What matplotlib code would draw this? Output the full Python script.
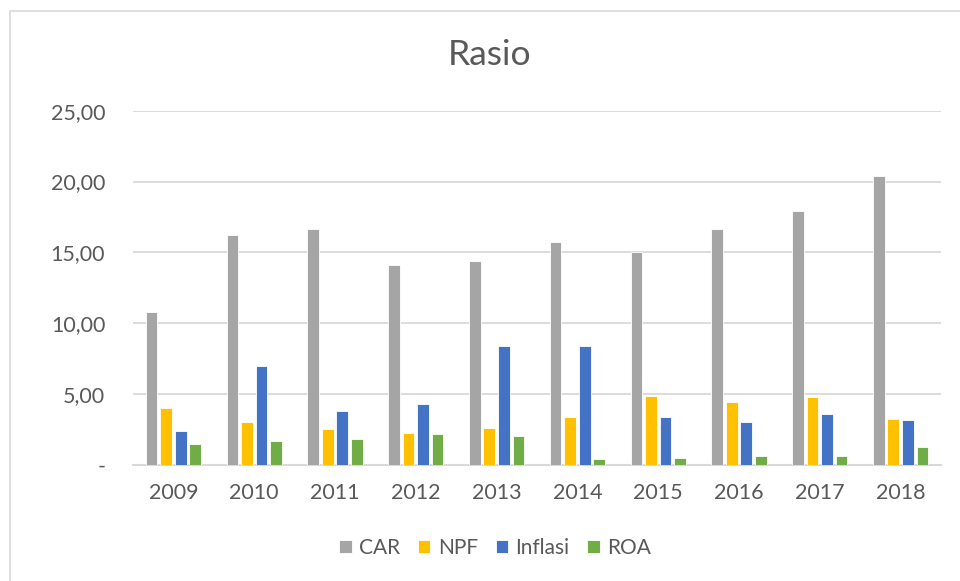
import matplotlib
matplotlib.use("Agg")
import matplotlib.pyplot as plt
import numpy as np
from matplotlib.patches import Rectangle

plt.rcParams['font.family'] = ['Lato', 'DejaVu Sans']

years = ['2009', '2010', '2011', '2012', '2013', '2014', '2015', '2016', '2017', '2018']
car = [10.77, 16.25, 16.63, 14.13, 14.42, 15.74, 15.02, 16.63, 17.91, 20.39]
npf = [4.01, 3.02, 2.52, 2.22, 2.62, 3.38, 4.84, 4.42, 4.76, 3.26]
inflasi = [2.41, 6.96, 3.79, 4.30, 8.38, 8.36, 3.35, 3.02, 3.61, 3.13]
roa = [1.48, 1.67, 1.79, 2.14, 2.00, 0.41, 0.49, 0.63, 0.63, 1.28]
series_names = ['CAR', 'NPF', 'Inflasi', 'ROA']
colors = ['#A5A5A5', '#FFC000', '#4472C4', '#70AD47']
yticks = [0, 5, 10, 15, 20, 25]
ytick_labels = ['-', '5,00', '10,00', '15,00', '20,00', '25,00']

fig = plt.figure(figsize=(9.6, 5.81), dpi=100)
ax = fig.add_axes([133/960, 1-464.7/581, (941-133)/960, (464.7-110.7)/581])

x = np.arange(len(years))
w = 0.145
step = 0.18
for i, (vals, c, name) in enumerate(zip([car, npf, inflasi, roa], colors, series_names)):
    ax.bar(x + (i - 1.5) * step, vals, width=w, color=c, label=name,
           edgecolor='white', linewidth=0.6, zorder=3)

ax.set_xlim(-0.5, len(years) - 0.5)
ax.set_ylim(0, 25)
ax.set_yticks(yticks)
ax.set_yticklabels(ytick_labels)
ax.set_xticks(x)
ax.set_xticklabels(years)
ax.tick_params(axis='both', length=0, labelsize=15.5, colors='#595959')
ax.tick_params(axis='y', pad=20)
ax.tick_params(axis='x', pad=13)
for lab in ax.get_yticklabels():
    lab.set_horizontalalignment('right')
ax.grid(axis='y', color='#D9D9D9', linewidth=1.3, zorder=0)
for s in ['top', 'right', 'left']:
    ax.spines[s].set_visible(False)
ax.spines['bottom'].set_color('#D9D9D9')
ax.spines['bottom'].set_linewidth(1.5)
ax.set_axisbelow(True)

fig.text(490/960, 1-55/581, 'Rasio', ha='center', va='center', fontsize=25.5, color='#595959')

leg = fig.legend(loc='center', bbox_to_anchor=(495/960, 1-548/581), ncol=4, frameon=False,
                 fontsize=15, handlelength=0.6, handleheight=0.6, handletextpad=0.35,
                 columnspacing=0.85)
for t in leg.get_texts():
    t.set_color('#595959')

# chart border
fig.patches.append(Rectangle((10/960, -0.01), 1.1, 1 - 11.5/581 + 0.01, transform=fig.transFigure,
                             fill=False, edgecolor='#D9D9D9', linewidth=1.2))

fig.savefig('out.png', dpi=100)
